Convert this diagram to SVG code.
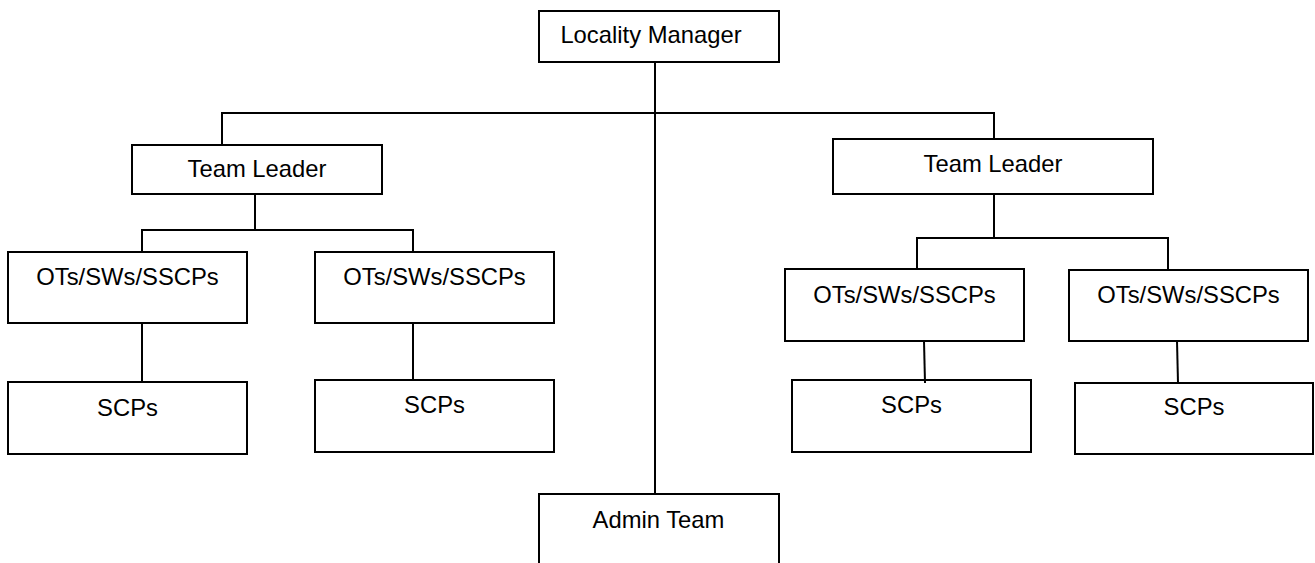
<svg xmlns="http://www.w3.org/2000/svg" width="1315" height="563" viewBox="0 0 1315 563">
  <style>
    .box { fill: #ffffff; stroke: #000000; stroke-width: 2; }
    .lbl { font-family: "Liberation Sans", Arial, sans-serif; font-size: 23.8px; fill: #000000; text-anchor: middle; }
    .wire { fill: none; stroke: #000000; stroke-width: 2; }
  </style>
  <rect width="1315" height="563" fill="#ffffff"/>

  <!-- Org chart boxes -->
  <g id="locality-manager">
    <rect class="box" x="539" y="11" width="240" height="51"/>
    <text class="lbl" x="651" y="43">Locality Manager</text>
  </g>
  <g id="team-leader-left">
    <rect class="box" x="132" y="145" width="250" height="49"/>
    <text class="lbl" x="257" y="177">Team Leader</text>
  </g>
  <g id="team-leader-right">
    <rect class="box" x="833" y="139" width="320" height="55"/>
    <text class="lbl" x="993" y="172">Team Leader</text>
  </g>
  <g id="ot-1">
    <rect class="box" x="8" y="252" width="239" height="71"/>
    <text class="lbl" x="127.5" y="285">OTs/SWs/SSCPs</text>
  </g>
  <g id="ot-2">
    <rect class="box" x="315" y="252" width="239" height="71"/>
    <text class="lbl" x="434.5" y="285">OTs/SWs/SSCPs</text>
  </g>
  <g id="ot-3">
    <rect class="box" x="785" y="269" width="239" height="72"/>
    <text class="lbl" x="904.5" y="303">OTs/SWs/SSCPs</text>
  </g>
  <g id="ot-4">
    <rect class="box" x="1069" y="270" width="239" height="71"/>
    <text class="lbl" x="1188.5" y="303">OTs/SWs/SSCPs</text>
  </g>
  <g id="scp-1">
    <rect class="box" x="8" y="382" width="239" height="72"/>
    <text class="lbl" x="127.5" y="416">SCPs</text>
  </g>
  <g id="scp-2">
    <rect class="box" x="315" y="380" width="239" height="72"/>
    <text class="lbl" x="434.5" y="413">SCPs</text>
  </g>
  <g id="scp-3">
    <rect class="box" x="792" y="380" width="239" height="72"/>
    <text class="lbl" x="911.5" y="413">SCPs</text>
  </g>
  <g id="scp-4">
    <rect class="box" x="1075" y="383" width="238" height="71"/>
    <text class="lbl" x="1194" y="415">SCPs</text>
  </g>
  <g id="admin-team">
    <rect class="box" x="539" y="494" width="240" height="80"/>
    <text class="lbl" x="658.5" y="528">Admin Team</text>
  </g>

  <!-- Reporting lines -->
  <g id="connectors" class="wire">
    <path class="wire" d="M655,62 V494"/>
    <path class="wire" d="M222,145 V113 H994 V139"/>
    <path class="wire" d="M255,194 V230"/>
    <path class="wire" d="M142,252 V230 H413 V252"/>
    <path class="wire" d="M994,194 V238"/>
    <path class="wire" d="M917,269 V238 H1168 V270"/>
    <path class="wire" d="M142,323 V382"/>
    <path class="wire" d="M413,323 V380"/>
    <path class="wire" d="M924,341 L925,383"/>
    <path class="wire" d="M1177,341 L1178,383"/>
  </g>
</svg>
